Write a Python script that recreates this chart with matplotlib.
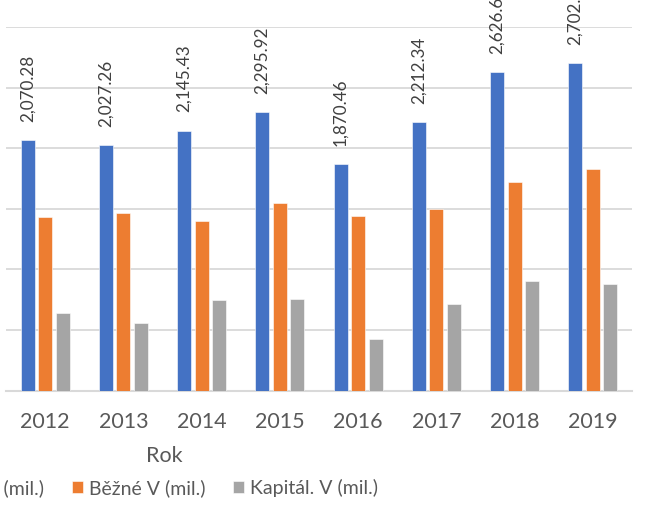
import matplotlib
matplotlib.use("Agg")
import matplotlib.pyplot as plt
import numpy as np

years = ["2012", "2013", "2014", "2015", "2016", "2017", "2018", "2019"]
celkove = [2070.28, 2027.26, 2145.43, 2295.92, 1870.46, 2212.34, 2626.61, 2702.95]
bezne = [1432, 1468, 1397, 1544, 1443, 1498, 1721, 1828]
kapital = [638, 559, 748, 752, 427, 714, 905, 875]
series_names = ["Celkové V (mil.)", "Běžné V (mil.)", "Kapitál. V (mil.)"]
colors = ["#4472C4", "#ED7D31", "#A5A5A5"]
x_title = "Rok"

plt.rcParams['font.family'] = ['Lato', 'DejaVu Sans']
W, H = 656, 515
fig = plt.figure(figsize=(W / 100, H / 100), dpi=100)

left_px, right_px, top_px, bottom_px = 6, 632, 27, 390.5
ax = fig.add_axes([left_px / W, (H - bottom_px) / H,
                   (right_px - left_px) / W, (bottom_px - top_px) / H])

x = np.arange(len(years))
step = 0.224
width = 0.18
data = [celkove, bezne, kapital]
for i, (vals, c, name) in enumerate(zip(data, colors, series_names)):
    ax.bar(x + (i - 1) * step, vals, width, color=c, label=name,
           edgecolor="white", linewidth=0.4, zorder=3)

for xi, v in zip(x, celkove):
    ax.annotate(f"{v:,.2f}", xy=(xi - step, v), xytext=(0, 13),
                textcoords="offset points", rotation=90, ha="center",
                va="bottom", fontsize=12.3, color="#404040",
                annotation_clip=False)

ax.set_xlim(-0.5, len(years) - 0.5)
ax.set_ylim(0, 3000)
ax.set_yticks(np.arange(0, 3001, 500))
ax.yaxis.grid(True, color="#D9D9D9", linewidth=1.3, zorder=0)
ax.set_yticklabels([])
ax.tick_params(axis="y", length=0)
for s in ["top", "right", "left"]:
    ax.spines[s].set_visible(False)
ax.spines["bottom"].set_color("#D9D9D9")
ax.spines["bottom"].set_linewidth(1.5)
ax.set_xticks(x)
ax.set_xticklabels(years, fontsize=15.5, color="#595959")
ax.tick_params(axis="x", length=0, pad=15.5)

fig.text(164 / W, (H - 456) / H, x_title, ha="center", va="center",
         fontsize=15.5, color="#595959")

handles, labels = ax.get_legend_handles_labels()
leg = fig.legend(handles, labels, loc="center left",
                 bbox_to_anchor=(0, (H - 488) / H), ncol=3, frameon=False,
                 fontsize=14, labelcolor="#595959", handlelength=0.55,
                 handleheight=0.55, handletextpad=0.3, columnspacing=1.45,
                 borderpad=0, borderaxespad=0)
fig.canvas.draw()
r = fig.canvas.get_renderer()
tb = leg.get_texts()[0].get_window_extent(r)
dx = 44 - tb.x1
leg.set_bbox_to_anchor((dx / W, (H - 488) / H), transform=fig.transFigure)

fig.savefig("out.png", dpi=100)
